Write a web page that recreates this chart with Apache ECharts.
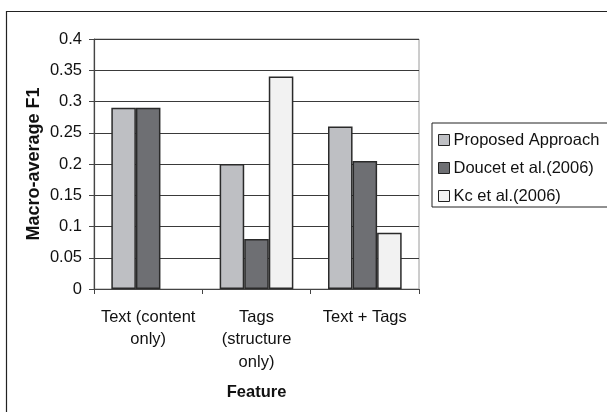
<!DOCTYPE html>
<html>
<head>
<meta charset="utf-8">
<script src="https://cdn.jsdelivr.net/npm/echarts@6/dist/echarts.min.js"></script>
<style>
html,body{margin:0;padding:0;background:#fff;}
#chart{width:607px;height:412px;}
</style>
</head>
<body>
<div id="chart"></div>
<script>
// Feature sets compared
const categories = ['Text (content\nonly)', 'Tags\n(structure\nonly)', 'Text + Tags'];
// Macro-average F1 per approach
const proposedApproach = [0.29, 0.2, 0.26];
const doucet2006 = [0.29, 0.08, 0.205];
const kc2006 = [null, 0.34, 0.09];
const seriesNames = ['Proposed Approach', 'Doucet et al.(2006)', 'Kc et al.(2006)'];
const seriesColors = ['#bebfc3', '#6e6f73', '#f2f2f2'];

const font = 'Liberation Sans, Arial, sans-serif';
const fs = 16.5;
const chart = echarts.init(document.getElementById('chart'), null, {renderer: 'canvas'});

function barSeries(name, data, color) {
  return {
    name: name,
    type: 'bar',
    data: data,
    barGap: '0%',
    barCategoryGap: '32%',
    itemStyle: {color: color, borderColor: '#2a2a2a', borderWidth: 1.5},
    emphasis: {disabled: true}
  };
}

chart.setOption({
  animation: false,
  graphic: [
    {type: 'line', shape: {x1: 6, y1: 11.5, x2: 607, y2: 11.5}, style: {stroke: '#222', lineWidth: 1.2}},
    {type: 'line', shape: {x1: 6.5, y1: 11, x2: 6.5, y2: 412}, style: {stroke: '#222', lineWidth: 1.2}},
    {type: 'rect', shape: {x: 94, y: 39, width: 325, height: 250}, style: {fill: 'none', stroke: '#9a9a9a', lineWidth: 1}, z: -1}
  ],
  grid: {left: 94, top: 39, width: 325, height: 250, containLabel: false},
  legend: {
    orient: 'vertical',
    left: 432,
    top: 123,
    padding: [8, 12, 2, 6],
    itemGap: 10,
    itemWidth: 11,
    itemHeight: 11,
    borderColor: '#222',
    borderWidth: 1,
    borderRadius: 0,
    icon: 'rect',
    textStyle: {fontFamily: font, fontSize: fs, lineHeight: 18, color: '#111', padding: [0, 0, 0, -1]},
    itemStyle: {borderColor: '#222', borderWidth: 1},
    data: seriesNames
  },
  xAxis: {
    type: 'category',
    data: categories,
    name: 'Feature',
    nameLocation: 'middle',
    nameGap: 95,
    nameMoveOverlap: false,
    nameTextStyle: {fontFamily: font, fontSize: fs, fontWeight: 'bold', color: '#111'},
    axisLine: {lineStyle: {color: '#444', width: 1.2}},
    axisTick: {show: true, length: 5, alignWithLabel: false, lineStyle: {color: '#444'}},
    axisLabel: {fontFamily: font, fontSize: fs, color: '#111', lineHeight: 22.5, margin: 17, interval: 0}
  },
  yAxis: {
    type: 'value',
    min: 0,
    max: 0.4,
    interval: 0.05,
    name: 'Macro-average F1',
    nameLocation: 'middle',
    nameGap: 51,
    nameMoveOverlap: false,
    nameRotate: 90,
    nameTextStyle: {fontFamily: font, fontSize: 18, fontWeight: 'bold', color: '#111'},
    axisLine: {show: true, lineStyle: {color: '#444', width: 1.2}},
    axisTick: {show: true, length: 5, inside: false, lineStyle: {color: '#444'}},
    axisLabel: {fontFamily: font, fontSize: fs, color: '#111', margin: 12, formatter: v => String(+v.toFixed(2))},
    splitLine: {show: true, lineStyle: {color: '#3a3a3a', width: 1}}
  },
  series: [
    barSeries(seriesNames[0], proposedApproach, seriesColors[0]),
    barSeries(seriesNames[1], doucet2006, seriesColors[1]),
    barSeries(seriesNames[2], kc2006, seriesColors[2])
  ]
});
</script>
</body>
</html>
